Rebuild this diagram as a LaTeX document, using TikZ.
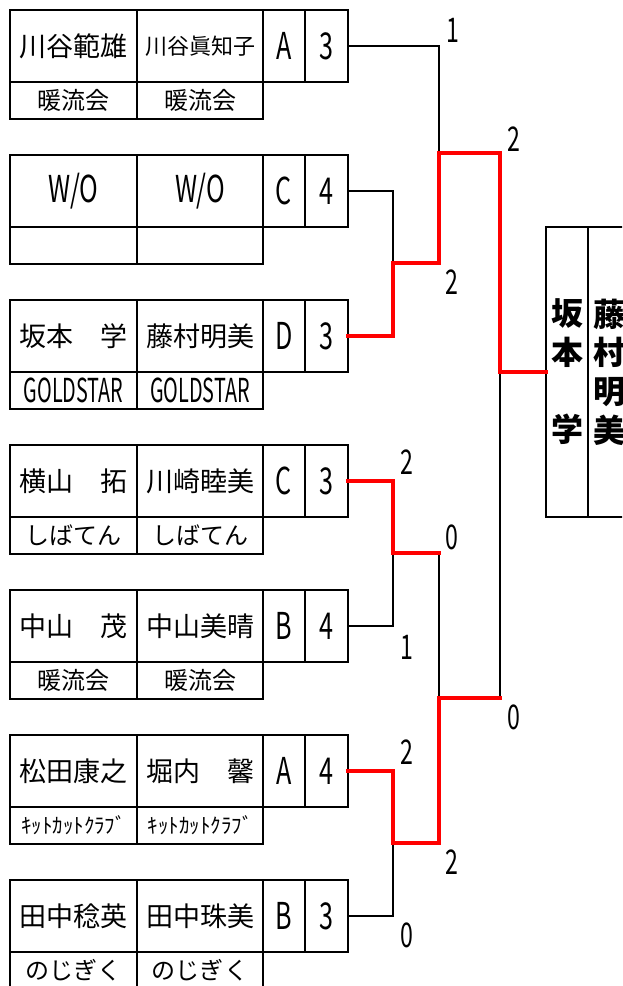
\documentclass[tikz,border=0pt]{standalone}
\usepackage{fontspec}
\usepackage{graphicx}
\setmainfont{Noto Sans CJK JP}
\newcommand\nar[1]{\scalebox{0.68}[1]{#1}}
\newcommand\narr[1]{\scalebox{0.6}[1]{#1}}
\newcommand\latsub[1]{{\fontsize{33}{33}\selectfont\narr{#1}}}
\newcommand\kanasub[1]{{\fontsize{21}{21}\selectfont #1}}
\newcommand\pairbox[8]{%
  \node[namecell, minimum width=127pt] (a#1) at (10,#2) {#3};
  \node[namecell, minimum width=126pt] (b#1) at (137,#2) {#4};
  \node[namecell, minimum width=42pt, font=\fontsize{37}{37}\selectfont] (c#1) at (263,#2) {\nar{#5}};
  \node[namecell, minimum width=43pt, font=\fontsize{37}{37}\selectfont] (d#1) at (305,#2) {\nar{#6}};
  \node[subcell, minimum width=127pt] (e#1) at (10,#2+72) {#7};
  \node[subcell, minimum width=126pt] (f#1) at (137,#2+72) {#8};
}
\tikzset{
  namecell/.style={draw, line width=2pt, inner sep=0pt, outer sep=0pt, anchor=north west,
    minimum height=72pt, font=\fontsize{27}{27}\selectfont},
  subcell/.style={draw, line width=2pt, inner sep=0pt, outer sep=0pt, anchor=north west,
    minimum height=37pt, font=\fontsize{24}{24}\selectfont},
  blk/.style={line width=2pt, black},
  win/.style={line width=4.5pt, red, line cap=rect},
  sc/.style={font=\fontsize{34}{34}\selectfont, inner sep=0pt},
  finalcell/.style={draw, line width=2pt, inner sep=0pt, outer sep=0pt, anchor=north west,
    minimum width=42pt, minimum height=290pt, align=center,
    font=\bfseries\fontsize{32}{38.7}\selectfont},
}
\begin{document}
\begin{tikzpicture}[x=1pt,y=-1pt]
\clip (0,0) rectangle (622,986);
\fill[white] (0,0) rectangle (622,986);

\pairbox{1}{10}{川谷範雄}{{\fontsize{22}{22}\selectfont 川谷眞知子}}{A}{3}{暖流会}{暖流会}
\pairbox{2}{155}{\fontsize{37}{37}\selectfont\nar{W/O}}{\fontsize{37}{37}\selectfont\nar{W/O}}{C}{4}{}{}
\pairbox{3}{300}{坂本　学}{藤村明美}{D}{3}{\latsub{GOLDSTAR}}{\latsub{GOLDSTAR}}
\pairbox{4}{445}{横山　拓}{川崎睦美}{C}{3}{しばてん}{しばてん}
\pairbox{5}{590}{中山　茂}{中山美晴}{B}{4}{暖流会}{暖流会}
\pairbox{6}{735}{松田康之}{堀内　馨}{A}{4}{\kanasub{ｷｯﾄｶｯﾄｸﾗﾌﾞ}}{\kanasub{ｷｯﾄｶｯﾄｸﾗﾌﾞ}}
\pairbox{7}{880}{田中稔英}{田中珠美}{B}{3}{のじぎく}{のじぎく}

% final box
\node[finalcell] (fa) at (546,227) {坂\\本\\　\\学};
\node[finalcell] (fb) at (588,227) {藤\\村\\明\\美};

% junction coordinates
\coordinate (j23) at (393,263);
\coordinate (j45) at (393,553);
\coordinate (j67) at (393,843);
\coordinate (jA) at (439,153);
\coordinate (jB) at (439,698);
\coordinate (jF) at (500,372);

% black (losing) lines
\draw[blk] (d1.east) -| (jA);
\draw[blk] (d2.east) -| (j23);
\draw[blk] (d5.east) -| (j45);
\draw[blk] (d7.east) -| (j67);
\draw[blk] (j45 -| jA) -- (jB);
\draw[blk] (jB -| jF) -- (jF);

% red (winning) lines
\draw[win] (d3.east) -| (j23) -| (jA) -| (jF) -- (fa.west |- jF);
\draw[win] (d4.east) -| (j45) -- (j45 -| jA);
\draw[win] (d6.east) -| (j67) -| (jB) -- (jB -| jF);

% scores
\node[sc] (s1) at (453,30) {\nar{1}};
\node[sc] (s2) at (514,139) {\nar{2}};
\node[sc] (s3) at (452,282) {\nar{2}};
\node[sc] (s4) at (407,462) {\nar{2}};
\node[sc] (s5) at (452,537) {\nar{0}};
\node[sc] (s6) at (407,647) {\nar{1}};
\node[sc] (s7) at (514,717) {\nar{0}};
\node[sc] (s8) at (407,752) {\nar{2}};
\node[sc] (s9) at (452,862) {\nar{2}};
\node[sc] (s10) at (407,935) {\nar{0}};
\end{tikzpicture}
\end{document}
